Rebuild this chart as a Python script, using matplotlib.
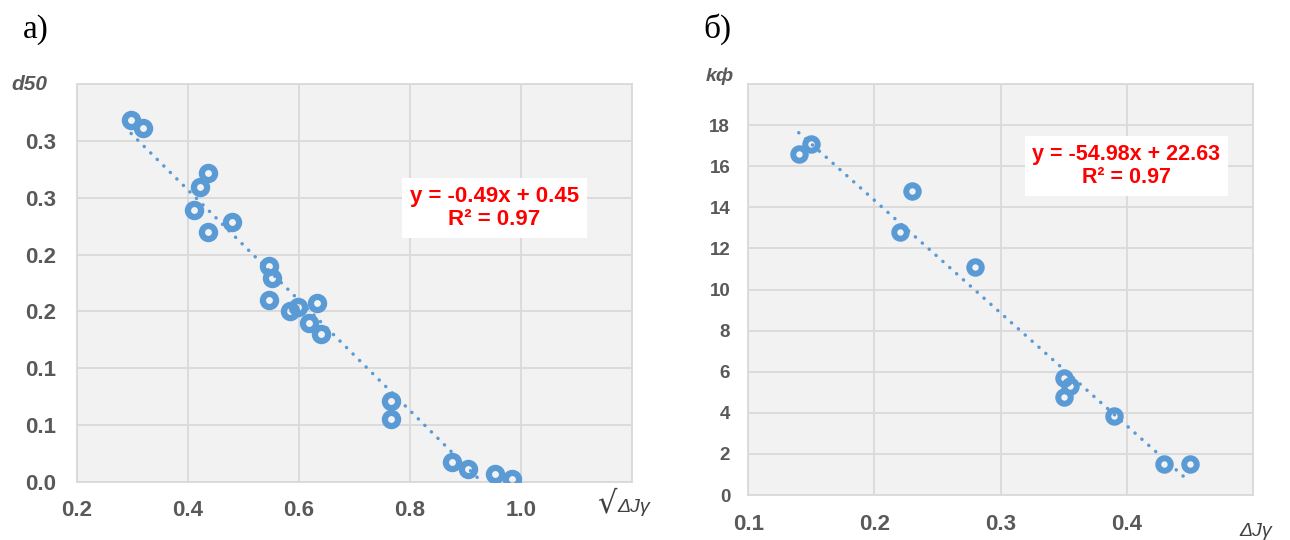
import numpy as np
import matplotlib
matplotlib.use("Agg")
import matplotlib.pyplot as plt

# ---- data: panel а) d50 vs sqrt(ΔJγ) ----
a_x = [0.298, 0.320, 0.437, 0.422, 0.412, 0.437, 0.480, 0.547, 0.552, 0.547, 0.584,
       0.599, 0.633, 0.619, 0.640, 0.766, 0.766, 0.876, 0.905, 0.953, 0.984]
a_y = [0.318, 0.311, 0.272, 0.259, 0.239, 0.220, 0.229, 0.190, 0.179, 0.160, 0.150,
       0.154, 0.157, 0.140, 0.130, 0.071, 0.055, 0.018, 0.011, 0.007, 0.003]
a_xticks = [0.2, 0.4, 0.6, 0.8, 1.0, 1.2]
a_xticklabels = ["0.2", "0.4", "0.6", "0.8", "1.0", ""]
a_yticks = [0.0, 0.05, 0.10, 0.15, 0.20, 0.25, 0.30, 0.35]
a_yticklabels = ["0.0", "0.1", "0.1", "0.2", "0.2", "0.3", "0.3", ""]
a_eq = "y = -0.49x + 0.45\nR² = 0.97"

# ---- data: panel б) kф vs ΔJγ ----
b_x = [0.140, 0.150, 0.230, 0.220, 0.280, 0.350, 0.355, 0.350, 0.390, 0.430, 0.450]
b_y = [16.6, 17.1, 14.8, 12.8, 11.1, 5.7, 5.3, 4.75, 3.85, 1.5, 1.5]
b_xticks = [0.1, 0.2, 0.3, 0.4, 0.5]
b_xticklabels = ["0.1", "0.2", "0.3", "0.4", ""]
b_yticks = [0, 2, 4, 6, 8, 10, 12, 14, 16, 18, 20]
b_yticklabels = ["0", "2", "4", "6", "8", "10", "12", "14", "16", "18", ""]
b_eq = "y = -54.98x + 22.63\nR² = 0.97"

BLUE = "#5B9BD5"
TICK = "#595959"
GRID = "#D9D9D9"
FACE = "#F2F2F2"
SANS = ["Liberation Sans", "DejaVu Sans"]

fig = plt.figure(figsize=(12.9, 5.4), dpi=100)
fig.patch.set_facecolor("white")

ax1 = fig.add_axes([76.7 / 1290, 1 - 482 / 540, 555.3 / 1290, 398 / 540])
ax2 = fig.add_axes([748.3 / 1290, 1 - 495 / 540, 504.4 / 1290, 411 / 540])


def style(ax, xticks, xlabels, yticks, ylabels, xlim, ylim, ysize, ypad, xpad):
    ax.set_facecolor(FACE)
    ax.set_xlim(*xlim)
    ax.set_ylim(*ylim)
    ax.set_xticks(xticks)
    ax.set_xticklabels(xlabels, fontsize=16, fontweight="bold", color=TICK, family=SANS)
    ax.set_yticks(yticks)
    ax.set_yticklabels(ylabels, fontsize=ysize, fontweight="bold", color=TICK, family=SANS)
    ax.tick_params(axis="x", length=0, pad=xpad)
    ax.tick_params(axis="y", length=0, pad=ypad)
    ax.grid(True, color=GRID, linewidth=1.3)
    ax.set_axisbelow(True)
    for s in ax.spines.values():
        s.set_color(GRID)
        s.set_linewidth(1.3)


def scatter_with_trend(ax, x, y, ms, mew):
    x = np.asarray(x)
    y = np.asarray(y)
    k, b = np.polyfit(x, y, 1)
    xs = np.array([x.min(), x.max()])
    ax.plot(xs, k * xs + b, color=BLUE, linewidth=2.5,
            linestyle=(0, (0.05, 2.6)), dash_capstyle="round", zorder=2)
    ax.plot(x, y, linestyle="none", marker="o", markersize=ms,
            markerfacecolor="none", markeredgecolor=BLUE, markeredgewidth=mew, zorder=3)


style(ax1, a_xticks, a_xticklabels, a_yticks, a_yticklabels,
      (0.2, 1.2), (0.0, 0.35), 16, 15, 13)
scatter_with_trend(ax1, a_x, a_y, 9.5, 4.5)
ax1.text(0.752, 0.688, a_eq, transform=ax1.transAxes, ha="center", va="center",
         multialignment="center", fontsize=16, fontweight="bold", color="#FF0000",
         family=SANS, linespacing=1.15,
         bbox=dict(boxstyle="square,pad=0.35", facecolor="white", edgecolor="none"))

style(ax2, b_xticks, b_xticklabels, b_yticks, b_yticklabels,
      (0.1, 0.5), (0, 20), 13.5, 13, 14)
scatter_with_trend(ax2, b_x, b_y, 9.0, 4.3)
ax2.text(0.749, 0.800, b_eq, transform=ax2.transAxes, ha="center", va="center",
         multialignment="center", fontsize=15.5, fontweight="bold", color="#FF0000",
         family=SANS, linespacing=1.15,
         bbox=dict(boxstyle="square,pad=0.35", facecolor="white", edgecolor="none"))


def fx(px):
    return px / 1290


def fy(py):
    return 1 - py / 540


# axis titles
fig.text(fx(29), fy(84), "d50", ha="center", va="center", fontsize=15,
         fontweight="bold", style="italic", color=TICK, family=SANS)
fig.text(fx(720), fy(76), "kф", ha="center", va="center", fontsize=14,
         fontweight="bold", style="italic", color=TICK, family=SANS)

fig.text(fx(607), fy(504), "√", ha="center", va="center", fontsize=22,
         color="#404040", family=["DejaVu Sans"])
fig.text(fx(617), fy(507), "ΔJγ", ha="left", va="center", fontsize=14,
         style="italic", color="#404040", family=SANS)
fig.text(fx(1256), fy(532), "ΔJγ", ha="center", va="center", fontsize=14,
         style="italic", color="#404040", family=SANS)

# panel letters
fig.text(fx(23), fy(30), "а)", ha="left", va="center", fontsize=24,
         color="black", family=["Liberation Serif", "DejaVu Serif"])
fig.text(fx(703), fy(29), "б)", ha="left", va="center", fontsize=24,
         color="black", family=["Liberation Serif", "DejaVu Serif"])

fig.savefig("out.png", dpi=100, facecolor="white")
